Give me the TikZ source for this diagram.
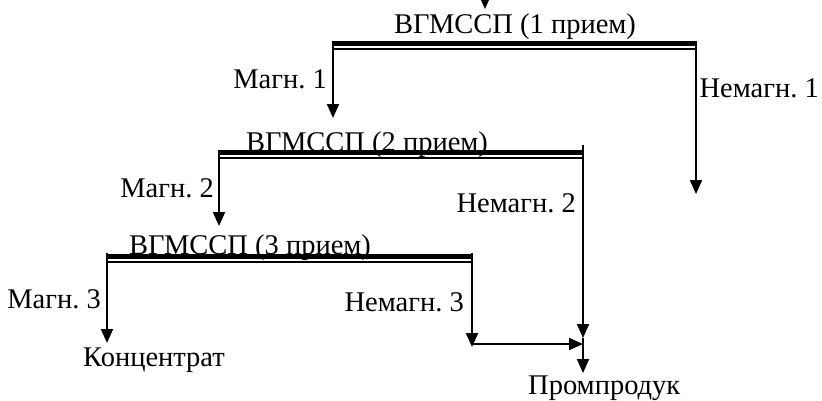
\documentclass[tikz,border=0pt]{standalone}
\usepackage{fontspec}
\setmainfont{Liberation Serif}
\usetikzlibrary{arrows.meta}
\begin{document}
\frenchspacing
\begin{tikzpicture}[x=1pt,y=-1pt,
  lbl/.style={inner sep=0pt,font=\fontsize{28.5}{30}\selectfont},
  flow/.style={line width=2pt,-{Triangle[width=12pt,length=14pt]}},
  barthick/.style={line width=5pt},
  barthin/.style={line width=1.3pt}]
\useasboundingbox (0,0) rectangle (822,400);
% coordinates
\coordinate (top) at (485,-3);
\coordinate (topend) at (485,9);
\coordinate (b1l) at (333,41); \coordinate (b1r) at (696,41);
\coordinate (m1end) at (333,118); \coordinate (n1end) at (696,194);
\coordinate (b2l) at (219,150); \coordinate (b2r) at (583,145);
\coordinate (m2end) at (219,226);
\coordinate (n2mid) at (583,338); \coordinate (n2j) at (583,344); \coordinate (n2end) at (583,373);
\coordinate (b3l) at (107,253); \coordinate (b3r) at (472,253);
\coordinate (m3end) at (107,343); \coordinate (n3end) at (472,347);
\coordinate (n3j) at (472,344);
% bars
\draw[barthick] (333,43.5) -- (696,43.5);
\draw[barthin] (333,49) -- (696,49);
\draw[barthick] (219,152.5) -- (583,152.5);
\draw[barthin] (219,158) -- (583,158);
\draw[barthick] (107,256) -- (472,256);
\draw[barthin] (107,262) -- (472,262);
% arrows
\draw[flow] (top) -- (topend);
\draw[flow] (b1l) -- (m1end);
\draw[flow] (b1r) -- (n1end);
\draw[flow] (b2l) -- (m2end);
\draw[flow] (b2r) -- (n2mid);
\draw[flow] (n2mid) -- (n2end);
\draw[flow] (b3l) -- (m3end);
\draw[flow] (b3r) -- (n3end);
\draw[flow] (n3j) -- (n2j);
% labels
\node[lbl,anchor=base] (t1) at (515,33) {ВГМССП (1 прием)};
\node[lbl,anchor=base] (t2) at (367,151) {ВГМССП (2 прием)};
\node[lbl,anchor=base] (t3) at (250,254) {ВГМССП (3 прием)};
\node[lbl,anchor=base east] (lm1) at (327,88) {Магн. 1};
\node[lbl,anchor=base east] (ln1) at (819,97) {Немагн. 1};
\node[lbl,anchor=base east] (lm2) at (214,197) {Магн. 2};
\node[lbl,anchor=base east] (ln2) at (576,212) {Немагн. 2};
\node[lbl,anchor=base east] (lm3) at (101,308) {Магн. 3};
\node[lbl,anchor=base east] (ln3) at (464,311) {Немагн. 3};
\node[lbl,anchor=base west] (lk) at (83,366) {Концентрат};
\node[lbl,anchor=base west] (lp) at (528,394) {Промпродук};
\end{tikzpicture}
\end{document}
